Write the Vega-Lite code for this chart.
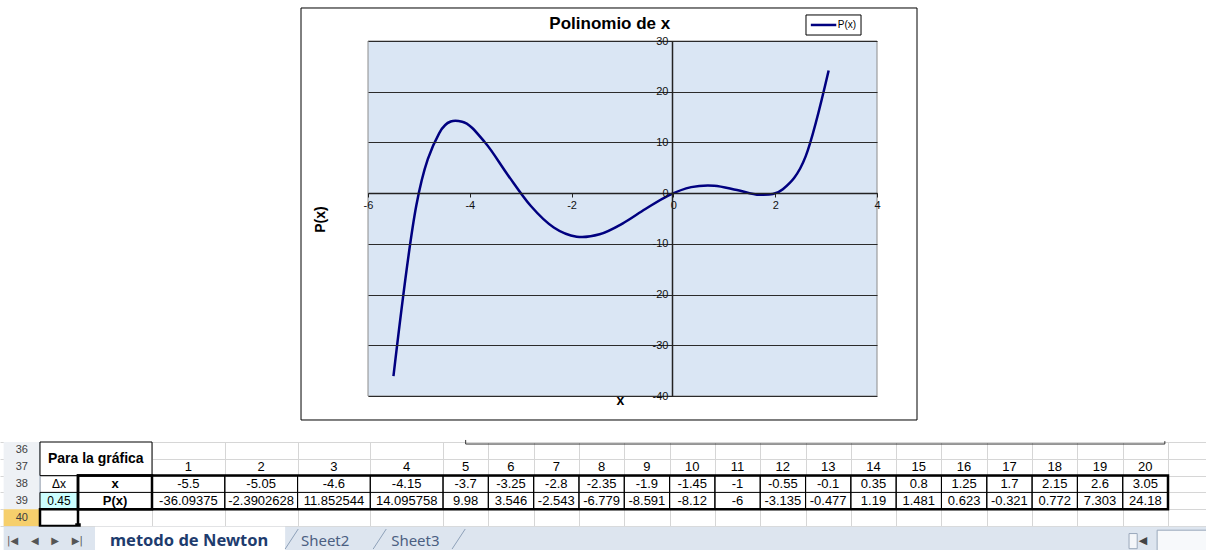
{
  "$schema": "https://vega.github.io/schema/vega-lite/v6.json",
  "width": 1206,
  "height": 550,
  "autosize": {"type": "none"},
  "padding": 0,
  "background": "white",
  "config": {"view": {"stroke": null}, "font": "Liberation Sans"},
  "datasets": {
    "poly": [
      {"n": 1, "x": -5.5, "p": -36.09375},
      {"n": 2, "x": -5.05, "p": -2.3902628},
      {"n": 3, "x": -4.6, "p": 11.852544},
      {"n": 4, "x": -4.15, "p": 14.095758},
      {"n": 5, "x": -3.7, "p": 9.98},
      {"n": 6, "x": -3.25, "p": 3.546},
      {"n": 7, "x": -2.8, "p": -2.543},
      {"n": 8, "x": -2.35, "p": -6.779},
      {"n": 9, "x": -1.9, "p": -8.591},
      {"n": 10, "x": -1.45, "p": -8.12},
      {"n": 11, "x": -1, "p": -6},
      {"n": 12, "x": -0.55, "p": -3.135},
      {"n": 13, "x": -0.1, "p": -0.477},
      {"n": 14, "x": 0.35, "p": 1.19},
      {"n": 15, "x": 0.8, "p": 1.481},
      {"n": 16, "x": 1.25, "p": 0.623},
      {"n": 17, "x": 1.7, "p": -0.321},
      {"n": 18, "x": 2.15, "p": 0.772},
      {"n": 19, "x": 2.6, "p": 7.303},
      {"n": 20, "x": 3.05, "p": 24.18}
    ],
    "cells": [
      {"c": 0, "r": 38, "t": "x"},
      {"c": 0, "r": 39, "t": "P(x)"}
    ],
    "cells2": [
      {"c": -1, "r": 38, "t": "Δx"},
      {"c": -1, "r": 39, "t": "0.45"}
    ],
    "rows": [{"row": 36}, {"row": 37}, {"row": 38}, {"row": 39}, {"row": 40}]
  },
  "resolve": {"scale": {"x": "independent", "y": "independent"}},
  "layer": [
    {
      "data": {"name": "poly"},
      "layer": [
        {
          "data": {"values": [{}]},
          "mark": {"type": "rect", "fill": "white", "stroke": "#000000", "strokeWidth": 1},
          "encoding": {"x": {"datum": -7.316}, "x2": {"datum": 4.786}, "y": {"datum": -44.73}, "y2": {"datum": 36.51}}
        },
        {
          "data": {"values": [{}]},
          "mark": {"type": "rect", "fill": "#dae6f4", "stroke": "#8c8c8c", "strokeWidth": 1},
          "encoding": {"x": {"datum": -6}, "x2": {"datum": 4}, "y": {"datum": -40}, "y2": {"datum": 30}}
        },
        {
          "data": {"values": [{}]},
          "mark": {"type": "text", "text": "Polinomio de x", "fontSize": 17, "fontWeight": "bold", "align": "center", "baseline": "middle", "color": "#000000"},
          "encoding": {"x": {"datum": -1.25}, "y": {"datum": 33.4}}
        },
        {
          "data": {"values": [{}]},
          "mark": {"type": "rect", "fill": "white", "stroke": "#000000", "strokeWidth": 1},
          "encoding": {"x": {"datum": 2.605}, "x2": {"datum": 3.686}, "y": {"datum": 31.18}, "y2": {"datum": 35.13}}
        },
        {
          "data": {"values": [{}]},
          "mark": {"type": "rule", "color": "#000080", "strokeWidth": 2.5},
          "encoding": {"x": {"datum": 2.7}, "x2": {"datum": 3.2}, "y": {"datum": 33.16}}
        },
        {
          "data": {"values": [{}]},
          "mark": {"type": "text", "text": "P(x)", "fontSize": 10, "align": "left", "baseline": "middle", "color": "#000000"},
          "encoding": {"x": {"datum": 3.23}, "y": {"datum": 33.16}}
        },
        {
          "mark": {"type": "line", "color": "#000080", "strokeWidth": 2.5, "interpolate": "cardinal"},
          "encoding": {
            "x": {
              "field": "x", "type": "quantitative",
              "scale": {"domain": [-6, 4], "range": [368, 877], "nice": false, "zero": false},
              "axis": {
                "orient": "bottom", "offset": -357, "values": [-6, -4, -2, 0, 2, 4],
                "labelExpr": "'' + datum.value",
                "grid": false, "domainColor": "#222222", "domainWidth": 1.5,
                "tickColor": "#222222", "tickSize": 4, "labelFontSize": 11, "labelColor": "#111111",
                "labelPadding": 2, "labelFlush": false, "labelOverlap": false,
                "title": "x", "titleX": 620, "titleY": 207, "titleFontSize": 14, "titleFontWeight": "bold",
                "titleAlign": "center", "titleBaseline": "middle", "titleColor": "#000000", "zindex": 1
              }
            },
            "y": {
              "field": "p", "type": "quantitative",
              "scale": {"domain": [-40, 30], "range": [396, 41], "nice": false, "zero": false},
              "axis": {
                "orient": "left", "offset": -672, "values": [-40, -30, -20, -10, 0, 10, 20, 30],
                "labelExpr": "'' + datum.value",
                "grid": true, "gridColor": "#2b2b2b", "gridWidth": 1, "gridOpacity": 1,
                "domainColor": "#222222", "domainWidth": 1.5, "tickColor": "#222222", "tickSize": 4,
                "labelFontSize": 11, "labelColor": "#111111", "labelPadding": 0, "labelOverlap": false, "labelFlush": false,
                "title": "P(x)", "titleX": -352, "titleY": 219, "titleAngle": 270, "titleFontSize": 14,
                "titleFontWeight": "bold", "titleAlign": "center", "titleBaseline": "middle", "titleColor": "#000000", "zindex": 1
              }
            }
          }
        }
      ]
    },
    {
      "layer": [
        {
          "data": {"values": [{}]},
          "mark": {"type": "rect", "fill": "#eef1f5"},
          "encoding": {
            "x": {
              "datum": -2.5,
              "scale": {"type": "linear", "domain": [-2.5, -1.5, -0.5, 0.5, 4.5, 20.5, 22.5], "range": [0, 40, 78, 152, 443, 1168, 1258], "nice": false, "zero": false},
              "axis": {"orient": "top", "values": [-1.5, -0.5, 0.5, 1.5, 2.5, 3.5, 4.5, 5.5, 6.5, 7.5, 8.5, 9.5, 10.5, 11.5, 12.5, 13.5, 14.5, 15.5, 16.5, 17.5, 18.5, 19.5, 20.5, 21.5], "grid": true, "gridColor": "#d6d6d6", "gridWidth": 1, "domain": false, "ticks": false, "labels": false, "title": null}
            },
            "x2": {"datum": -1.5},
            "y": {
              "datum": 35.5,
              "scale": {"type": "linear", "domain": [35.5, 43], "range": [442, 568], "nice": false, "zero": false},
              "axis": {"orient": "left", "values": [35.5, 36.5, 37.5, 38.5, 39.5, 40.5], "grid": true, "gridColor": "#d6d6d6", "gridWidth": 1, "domain": false, "ticks": false, "labels": false, "title": null}
            },
            "y2": {"datum": 40.5}
          }
        },
        {
          "data": {"values": [{}]},
          "mark": {"type": "rect", "fill": "#f6cf6c"},
          "encoding": {"x": {"datum": -2.5}, "x2": {"datum": -1.5}, "y": {"datum": 39.5}, "y2": {"datum": 40.5}}
        },
        {
          "data": {"values": [{}]},
          "mark": {"type": "rule", "color": "#9aa8bb", "strokeWidth": 1},
          "encoding": {"x": {"datum": -1.5}, "y": {"datum": 35.5}, "y2": {"datum": 40.5}}
        },
        {
          "data": {"values": [{}]},
          "mark": {"type": "rect", "fill": "white", "stroke": "#000000", "strokeWidth": 1},
          "encoding": {"x": {"datum": -1.5}, "x2": {"datum": 0.5}, "y": {"datum": 35.5}, "y2": {"datum": 37.5}}
        },
        {
          "data": {"values": [{}]},
          "mark": {"type": "rect", "fill": "#ccffff", "stroke": "#000000", "strokeWidth": 1},
          "encoding": {"x": {"datum": -1.5}, "x2": {"datum": -0.5}, "y": {"datum": 38.5}, "y2": {"datum": 39.5}}
        },
        {
          "data": {"name": "poly"},
          "transform": [{"filter": "datum.n <= 4"}],
          "mark": {"type": "bar", "width": 72.75, "fill": "white", "fillOpacity": 0, "stroke": "#000000", "strokeWidth": 1},
          "encoding": {"x": {"field": "n", "type": "quantitative"}, "y": {"datum": 37.5}, "y2": {"datum": 39.5}}
        },
        {
          "data": {"name": "poly"},
          "transform": [{"filter": "datum.n >= 5"}],
          "mark": {"type": "bar", "width": 45.31, "fill": "white", "fillOpacity": 0, "stroke": "#000000", "strokeWidth": 1},
          "encoding": {"x": {"field": "n", "type": "quantitative"}, "y": {"datum": 37.5}, "y2": {"datum": 39.5}}
        },
        {
          "data": {"values": [{}]},
          "mark": {"type": "rule", "color": "#000000", "strokeWidth": 1},
          "encoding": {"x": {"datum": -0.5}, "x2": {"datum": 20.5}, "y": {"datum": 38.5}}
        },
        {
          "data": {"values": [{}]},
          "mark": {"type": "rect", "fill": "white", "fillOpacity": 0, "stroke": "#000000", "strokeWidth": 2.5},
          "encoding": {"x": {"datum": -0.5}, "x2": {"datum": 20.5}, "y": {"datum": 37.5}, "y2": {"datum": 39.5}}
        },
        {
          "data": {"values": [{}]},
          "mark": {"type": "rect", "fill": "white", "fillOpacity": 0, "stroke": "#000000", "strokeWidth": 2.5},
          "encoding": {"x": {"datum": -0.5}, "x2": {"datum": 0.5}, "y": {"datum": 37.5}, "y2": {"datum": 39.5}}
        },
        {
          "data": {"values": [{}]},
          "mark": {"type": "rect", "fill": "white", "fillOpacity": 0, "stroke": "#000000", "strokeWidth": 2.5},
          "encoding": {"x": {"datum": -1.5}, "x2": {"datum": -0.5}, "y": {"datum": 39.5}, "y2": {"datum": 40.5}}
        },
        {
          "data": {"values": [{}]},
          "mark": {"type": "point", "shape": "square", "size": 30, "filled": true, "color": "#000000", "opacity": 1},
          "encoding": {"x": {"datum": -0.5}, "y": {"datum": 40.5}}
        },
        {
          "data": {"name": "poly"},
          "mark": {"type": "text", "fontSize": 13, "align": "center", "baseline": "middle", "color": "#000000"},
          "encoding": {"x": {"field": "n", "type": "quantitative"}, "y": {"datum": 37}, "text": {"field": "n", "type": "nominal"}}
        },
        {
          "data": {"name": "poly"},
          "mark": {"type": "text", "fontSize": 13, "align": "center", "baseline": "middle", "color": "#000000"},
          "encoding": {"x": {"field": "n", "type": "quantitative"}, "y": {"datum": 38}, "text": {"field": "x", "type": "nominal"}}
        },
        {
          "data": {"name": "poly"},
          "mark": {"type": "text", "fontSize": 13, "align": "center", "baseline": "middle", "color": "#000000"},
          "encoding": {"x": {"field": "n", "type": "quantitative"}, "y": {"datum": 39}, "text": {"field": "p", "type": "nominal"}}
        },
        {
          "data": {"name": "rows"},
          "mark": {"type": "text", "fontSize": 11, "align": "center", "baseline": "middle", "color": "#404040"},
          "encoding": {"x": {"datum": -2}, "y": {"field": "row", "type": "quantitative"}, "text": {"field": "row", "type": "nominal"}}
        },
        {
          "data": {"name": "cells"},
          "mark": {"type": "text", "fontSize": 13, "fontWeight": "bold", "align": "center", "baseline": "middle", "color": "#000000"},
          "encoding": {"x": {"field": "c", "type": "quantitative"}, "y": {"field": "r", "type": "quantitative"}, "text": {"field": "t", "type": "nominal"}}
        },
        {
          "data": {"name": "cells2"},
          "mark": {"type": "text", "fontSize": 12, "align": "center", "baseline": "middle", "color": "#000000"},
          "encoding": {"x": {"field": "c", "type": "quantitative"}, "y": {"field": "r", "type": "quantitative"}, "text": {"field": "t", "type": "nominal"}}
        },
        {
          "data": {"values": [{}]},
          "mark": {"type": "text", "text": "Para la gráfica", "fontSize": 14, "fontWeight": "bold", "align": "center", "baseline": "middle", "color": "#000000"},
          "encoding": {"x": {"datum": -0.26}, "y": {"datum": 36.5}}
        },
        {
          "data": {"values": [{}]},
          "mark": {"type": "rule", "color": "#333333", "strokeWidth": 1},
          "encoding": {"x": {"datum": 5.0}, "x2": {"datum": 20.43}, "y": {"datum": 35.62}}
        },
        {
          "data": {"values": [{}]},
          "mark": {"type": "rule", "color": "#333333", "strokeWidth": 1},
          "encoding": {"x": {"datum": 5.0}, "y": {"datum": 35.38}, "y2": {"datum": 35.62}}
        },
        {
          "data": {"values": [{}]},
          "mark": {"type": "rule", "color": "#333333", "strokeWidth": 1},
          "encoding": {"x": {"datum": 20.43}, "y": {"datum": 35.45}, "y2": {"datum": 35.62}}
        },
        {
          "data": {"values": [{}]},
          "mark": {"type": "rect", "fill": "#dde5ef"},
          "encoding": {"x": {"datum": -2.5}, "x2": {"datum": 22.5}, "y": {"datum": 40.55}, "y2": {"datum": 43}}
        },
        {
          "data": {"values": [{}]},
          "mark": {"type": "rect", "fill": "#ffffff"},
          "encoding": {"x": {"datum": -0.27}, "x2": {"datum": 2.33}, "y": {"datum": 40.55}, "y2": {"datum": 43}}
        },
        {
          "data": {"values": [{}]},
          "mark": {"type": "rule", "color": "#8da0b8", "strokeWidth": 1},
          "encoding": {"x": {"datum": 2.33}, "x2": {"datum": 2.51}, "y": {"datum": 41.87}, "y2": {"datum": 40.68}}
        },
        {
          "data": {"values": [{}]},
          "mark": {"type": "rule", "color": "#8da0b8", "strokeWidth": 1},
          "encoding": {"x": {"datum": 3.54}, "x2": {"datum": 3.72}, "y": {"datum": 41.87}, "y2": {"datum": 40.68}}
        },
        {
          "data": {"values": [{}]},
          "mark": {"type": "rule", "color": "#8da0b8", "strokeWidth": 1},
          "encoding": {"x": {"datum": 4.7}, "x2": {"datum": 4.99}, "y": {"datum": 41.87}, "y2": {"datum": 40.68}}
        },
        {
          "data": {"values": [{}]},
          "mark": {"type": "text", "text": "metodo de Newton", "font": "Noto Sans", "fontSize": 16.5, "fontWeight": "bold", "align": "center", "baseline": "middle", "color": "#1e3c6e"},
          "encoding": {"x": {"datum": 1.01}, "y": {"datum": 41.39}}
        },
        {
          "data": {"values": [{}]},
          "mark": {"type": "text", "text": "Sheet2", "font": "Noto Sans", "fontSize": 15, "align": "center", "baseline": "middle", "color": "#4b5f82"},
          "encoding": {"x": {"datum": 2.88}, "y": {"datum": 41.39}}
        },
        {
          "data": {"values": [{}]},
          "mark": {"type": "text", "text": "Sheet3", "font": "Noto Sans", "fontSize": 15, "align": "center", "baseline": "middle", "color": "#4b5f82"},
          "encoding": {"x": {"datum": 4.12}, "y": {"datum": 41.39}}
        },
        {
          "data": {"values": [{}]},
          "mark": {"type": "text", "text": "|◀\u00a0\u00a0\u00a0\u00a0◀\u00a0\u00a0\u00a0\u00a0▶\u00a0\u00a0\u00a0\u00a0▶|", "font": "DejaVu Sans", "fontSize": 10, "align": "center", "baseline": "middle", "color": "#555555"},
          "encoding": {"x": {"datum": -1.37}, "y": {"datum": 41.39}}
        },
        {
          "data": {"values": [{}]},
          "mark": {"type": "text", "text": "◀", "font": "DejaVu Sans", "fontSize": 11, "align": "center", "baseline": "middle", "color": "#444444"},
          "encoding": {"x": {"datum": 19.95}, "y": {"datum": 41.39}}
        },
        {
          "data": {"values": [{}]},
          "mark": {"type": "rect", "fill": "#f4f6f9", "stroke": "#9aa8bb", "strokeWidth": 1},
          "encoding": {"x": {"datum": 19.64}, "x2": {"datum": 19.82}, "y": {"datum": 40.95}, "y2": {"datum": 41.85}}
        },
        {
          "data": {"values": [{}]},
          "mark": {"type": "rect", "fill": "#f7f9fb", "stroke": "#9aa8bb", "strokeWidth": 1},
          "encoding": {"x": {"datum": 20.26}, "x2": {"datum": 21.5}, "y": {"datum": 40.75}, "y2": {"datum": 42.1}}
        }
      ]
    }
  ]
}
